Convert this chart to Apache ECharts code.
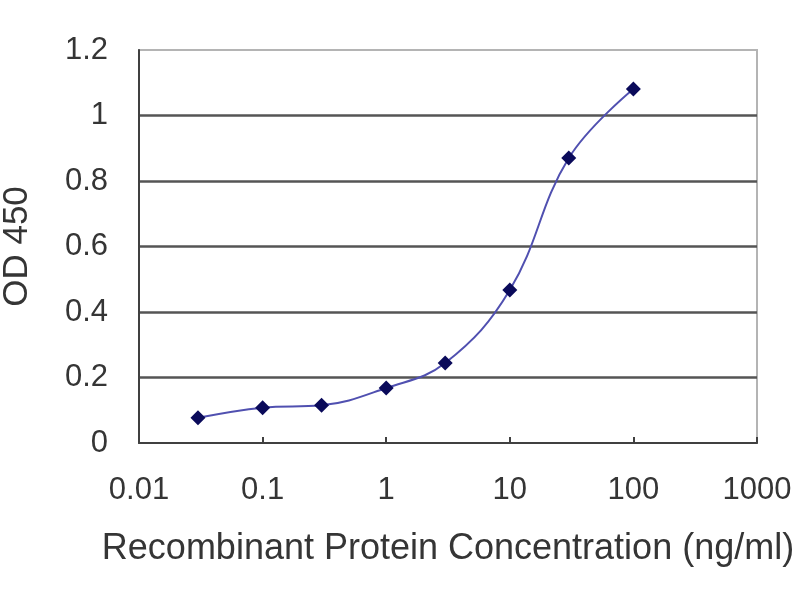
<!DOCTYPE html>
<html>
<head>
<meta charset="utf-8">
<script src="https://cdn.jsdelivr.net/npm/echarts@6/dist/echarts.min.js"></script>
<style>
  html, body { margin: 0; padding: 0; background: #fff; }
  #main { width: 800px; height: 600px; }
</style>
</head>
<body>
<div id="main"></div>
<script>
var concentrations = [0.03, 0.1, 0.3, 1, 3, 10, 30, 100],
    od450 = [0.077, 0.108, 0.115, 0.168, 0.244, 0.467, 0.87, 1.081],
    yTicks = [0, 0.2, 0.4, 0.6, 0.8, 1, 1.2];

var points = concentrations.map(function (c, i) { return [c, od450[i]]; });

var myChart = echarts.init(document.getElementById('main')),
    option = {
        backgroundColor: '#fff',
        textStyle: { fontFamily: 'Liberation Sans, Arial, sans-serif' },
        grid: {
            left: 139,
            right: 43,
            top: 50,
            bottom: 157,
            outerBoundsMode: 'none',
            containLabel: false,
            show: true,
            borderColor: '#b4b4b4',
            borderWidth: 2,
            backgroundColor: 'transparent'
        },
        xAxis: {
            type: 'log',
            logBase: 10,
            min: 0.01,
            max: 1000,
            name: 'Recombinant Protein Concentration (ng/ml)',
            nameLocation: 'middle',
            nameGap: 88,
            nameTextStyle: { fontSize: 36, color: '#353535' },
            axisLine: { lineStyle: { color: '#404040', width: 2 } },
            axisTick: { inside: true, length: 6, lineStyle: { color: '#404040', width: 2 } },
            axisLabel: {
                fontSize: 31,
                color: '#353535',
                margin: 32,
                formatter: function (v) { return String(+v.toPrecision(3)); }
            },
            splitLine: { show: false }
        },
        yAxis: {
            type: 'value',
            min: yTicks[0],
            max: yTicks[yTicks.length - 1],
            interval: 0.2,
            name: 'OD 450',
            nameLocation: 'middle',
            nameGap: 104,
            nameTextStyle: { fontSize: 35, color: '#353535' },
            axisLine: { show: true, lineStyle: { color: '#404040', width: 2 } },
            axisTick: { show: false },
            axisLabel: {
                fontSize: 31,
                color: '#353535',
                margin: 31,
                formatter: function (v) { return String(+v.toFixed(1)); }
            },
            splitLine: {
                show: true,
                showMinLine: false,
                showMaxLine: false,
                lineStyle: { color: '#555555', width: 2.5 }
            }
        },
        series: [
            {
                type: 'line',
                data: points,
                smooth: 0.4,
                symbol: 'diamond',
                symbolSize: 15,
                lineStyle: { color: '#5050b0', width: 2 },
                itemStyle: { color: '#0a0a5a' }
            }
        ],
        animation: false
    };

myChart.setOption(option);
</script>
</body>
</html>
